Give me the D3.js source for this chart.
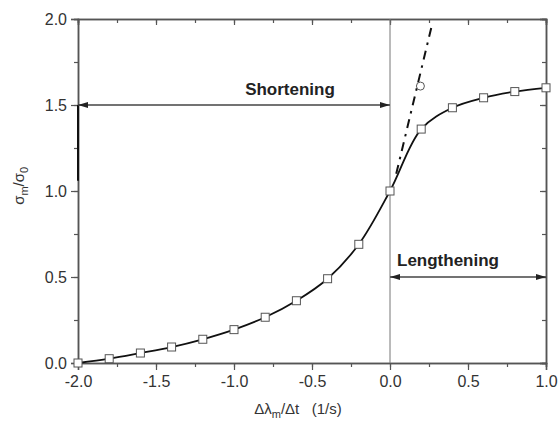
<!DOCTYPE html>
<html>
<head>
<meta charset="utf-8">
<script src="https://cdn.jsdelivr.net/npm/d3@7"></script>
<style>
  body { margin: 0; background: #fff; }
  text { font-family: "Liberation Sans", Arial, sans-serif; }
</style>
</head>
<body>
<div id="chart"></div>
<script>
// data
const rateX = [-2.0, -1.8, -1.6, -1.4, -1.2, -1.0, -0.8, -0.6, -0.4, -0.2, 0.0, 0.2, 0.4, 0.6, 0.8, 1.0];
const stressY = [0.0, 0.025, 0.058, 0.093, 0.138, 0.194, 0.266, 0.362, 0.49, 0.69, 1.0, 1.36, 1.484, 1.542, 1.578, 1.60];
const circleX = [0.195];
const circleY = [1.61];
const dashX = [0.04, 0.27];
const dashY = [1.10, 1.97];
const xTicks = [-2.0, -1.5, -1.0, -0.5, 0.0, 0.5, 1.0];
const yTicks = [0.0, 0.5, 1.0, 1.5, 2.0];

const width = 558, height = 424;
const margin = { left: 78, right: 12, top: 19, bottom: 61 };

const svg = d3.select("#chart").append("svg")
  .attr("width", width)
  .attr("height", height);

const x = d3.scaleLinear().domain([-2, 1]).range([margin.left, width - margin.right]);
const y = d3.scaleLinear().domain([0, 2]).range([height - margin.bottom, margin.top]);

const axisColor = "#555";
const minorX = d3.range(-2, 1.001, 0.25);
const minorY = d3.range(0, 2.001, 0.25);
const fmt = d => d.toFixed(1);

// frame axes
function styleAxis(g) {
  g.select(".domain").attr("stroke", axisColor).attr("stroke-width", 1.5);
  g.selectAll(".tick line").attr("stroke", axisColor).attr("stroke-width", 1.2);
  g.selectAll(".tick text").attr("fill", "#333").attr("font-size", 16);
}

// minor ticks first
svg.append("g").attr("transform", `translate(0,${y(0)})`)
  .call(d3.axisBottom(x).tickValues(minorX).tickSize(4).tickFormat("")).call(styleAxis);
svg.append("g").attr("transform", `translate(${x(-2)},0)`)
  .call(d3.axisLeft(y).tickValues(minorY).tickSize(4).tickFormat("")).call(styleAxis);
svg.append("g").attr("transform", `translate(0,${y(2)})`)
  .call(d3.axisTop(x).tickValues(minorX).tickSize(-4).tickFormat("")).call(styleAxis);
svg.append("g").attr("transform", `translate(${x(1)},0)`)
  .call(d3.axisRight(y).tickValues(minorY).tickSize(-4).tickFormat("")).call(styleAxis);

// major ticks
svg.append("g").attr("transform", `translate(0,${y(0)})`)
  .call(d3.axisBottom(x).tickValues(xTicks).tickSize(7).tickPadding(6).tickFormat(fmt))
  .call(styleAxis);
svg.append("g").attr("transform", `translate(${x(-2)},0)`)
  .call(d3.axisLeft(y).tickValues(yTicks).tickSize(7).tickPadding(4).tickFormat(fmt))
  .call(styleAxis);
svg.append("g").attr("transform", `translate(0,${y(2)})`)
  .call(d3.axisTop(x).tickValues(xTicks).tickSize(-6).tickFormat("")).call(styleAxis);
svg.append("g").attr("transform", `translate(${x(1)},0)`)
  .call(d3.axisRight(y).tickValues(yTicks).tickSize(-6).tickFormat("")).call(styleAxis);

// vertical line at zero
svg.append("line")
  .attr("x1", x(0)).attr("x2", x(0))
  .attr("y1", y(0)).attr("y2", y(2))
  .attr("stroke", "#777").attr("stroke-width", 1);

// dark segment on left axis
svg.append("line")
  .attr("x1", x(-2)).attr("x2", x(-2))
  .attr("y1", y(1.5)).attr("y2", y(1.06))
  .attr("stroke", "#111").attr("stroke-width", 2);

// arrows
const defs = svg.append("defs");
defs.append("marker")
  .attr("id", "arrow")
  .attr("viewBox", "0 0 10 6")
  .attr("refX", 10).attr("refY", 3)
  .attr("markerWidth", 10).attr("markerHeight", 6)
  .attr("markerUnits", "userSpaceOnUse")
  .attr("orient", "auto-start-reverse")
  .append("path").attr("d", "M0,0 L10,3 L0,6 Z").attr("fill", "#222");

function arrow(x0, x1, yv) {
  svg.append("line")
    .attr("x1", x(x0)).attr("x2", x(x1))
    .attr("y1", y(yv)).attr("y2", y(yv))
    .attr("stroke", "#444").attr("stroke-width", 1.3)
    .attr("marker-start", "url(#arrow)")
    .attr("marker-end", "url(#arrow)");
}
arrow(-2, 0, 1.5);
arrow(0, 1, 0.5);

svg.append("text").attr("x", 290).attr("y", 95)
  .attr("text-anchor", "middle").attr("font-size", 17).attr("font-weight", "bold")
  .attr("fill", "#222").text("Shortening");
svg.append("text").attr("x", 448).attr("y", 266)
  .attr("text-anchor", "middle").attr("font-size", 17).attr("font-weight", "bold")
  .attr("fill", "#222").text("Lengthening");

// dash-dot line
svg.append("line")
  .attr("x1", x(dashX[0])).attr("y1", y(dashY[0]))
  .attr("x2", x(dashX[1])).attr("y2", y(dashY[1]))
  .attr("stroke", "#111").attr("stroke-width", 2)
  .attr("stroke-dasharray", "9,6,2.5,6");

// curve
const pts = rateX.map((v, i) => [v, stressY[i]]);
const line = d3.line().x(d => x(d[0])).y(d => y(d[1])).curve(d3.curveCatmullRom.alpha(0.5));
svg.append("path").datum(pts)
  .attr("d", line)
  .attr("fill", "none").attr("stroke", "#111").attr("stroke-width", 1.8);

// square markers
svg.selectAll("rect.pt").data(pts).join("rect")
  .attr("class", "pt")
  .attr("x", d => x(d[0]) - 4).attr("y", d => y(d[1]) - 4)
  .attr("width", 8).attr("height", 8)
  .attr("fill", "#fff").attr("stroke", "#555").attr("stroke-width", 1);

// open circle
svg.selectAll("circle.pt").data(circleX.map((v, i) => [v, circleY[i]])).join("circle")
  .attr("class", "pt")
  .attr("cx", d => x(d[0])).attr("cy", d => y(d[1]))
  .attr("r", 4).attr("fill", "#fff").attr("stroke", "#555").attr("stroke-width", 1);

// axis labels
const xl = svg.append("text").attr("x", 298).attr("y", 414)
  .attr("text-anchor", "middle").attr("font-size", 15).attr("fill", "#333");
xl.append("tspan").text("Δλ");
xl.append("tspan").attr("font-size", 11).attr("dy", 4).text("m");
xl.append("tspan").attr("dy", -4).text("/Δt\u00a0\u00a0\u00a0(1/s)");

const yl = svg.append("text")
  .attr("transform", `translate(24,${y(1.03)}) rotate(-90)`)
  .attr("text-anchor", "middle").attr("font-size", 15).attr("fill", "#333");
yl.append("tspan").text("σ");
yl.append("tspan").attr("font-size", 11).attr("dy", 4).text("m");
yl.append("tspan").attr("dy", -4).text("/σ");
yl.append("tspan").attr("font-size", 11).attr("dy", 4).text("0");
</script>
</body>
</html>
